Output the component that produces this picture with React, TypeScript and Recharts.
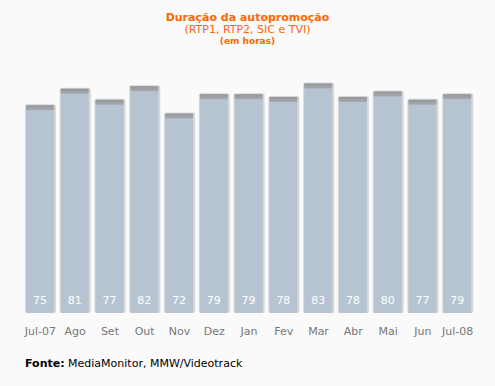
import React from "react";
import { BarChart, Bar, XAxis, YAxis, LabelList } from "recharts";

const months = ["Jul-07", "Ago", "Set", "Out", "Nov", "Dez", "Jan", "Fev", "Mar", "Abr", "Mai", "Jun", "Jul-08"];
const hours = [75, 81, 77, 82, 72, 79, 79, 78, 83, 78, 80, 77, 79];

const data = months.map((m, i) => ({ month: m, hours: hours[i] }));

const font = "Tahoma, 'DejaVu Sans', sans-serif";

// bar with a grey cap on top and a soft shadow, runs a few px under the baseline
const BarShape = (props: any) => {
  const { x, y, width, height } = props;
  const h = height + 3;
  return (
    <g>
      <rect x={x - 1} y={y - 1} width={width + 3} height={h + 1} rx={2} fill="#d4d7da" />
      <rect x={x} y={y} width={width} height={h} rx={1} fill="#b6c4d2" />
      <rect x={x} y={y} width={width} height={5} rx={1} fill="url(#cap)" />
    </g>
  );
};

const ValueLabel = (props: any) => {
  const { x, y, width, height, value } = props;
  return (
    <text
      x={x + width / 2}
      y={y + height - 9}
      textAnchor="middle"
      dominantBaseline="middle"
      fill="#ffffff"
      fontSize={11}
      fontFamily={font}
    >
      {value}
    </text>
  );
};

export default function App() {
  return (
    <div
      style={{
        position: "fixed",
        left: 0,
        top: 0,
        width: 495,
        height: 386,
        background: "#fafafa",
        fontFamily: font,
      }}
    >
      <div style={{ position: "absolute", top: 11, width: 495, textAlign: "center", color: "#ff6600" }}>
        <div style={{ fontSize: 11, fontWeight: "bold", lineHeight: "13px" }}>Duração da autopromoção</div>
        <div style={{ fontSize: 11, lineHeight: "12px" }}>(RTP1, RTP2, SIC e TVI)</div>
        <div style={{ fontSize: 9, fontWeight: "bold", lineHeight: "11px" }}>(em horas)</div>
      </div>
      <BarChart
        width={495}
        height={386}
        data={data}
        margin={{ top: 37, right: 20, bottom: 46, left: 23 }}
        barSize={28}
      >
        <defs>
          <linearGradient id="cap" x1="0" y1="0" x2="0" y2="1">
            <stop offset="0%" stopColor="#969696" />
            <stop offset="100%" stopColor="#a6abb0" />
          </linearGradient>
        </defs>
        <XAxis
          dataKey="month"
          axisLine={false}
          tickLine={false}
          tickSize={0}
          tickMargin={17}
          height={30}
          interval={0}
          tick={{ fill: "#777777", fontSize: 11, fontFamily: font }}
        />
        <YAxis hide domain={[0, 100]} />
        <Bar dataKey="hours" shape={<BarShape />} isAnimationActive={false}>
          <LabelList dataKey="hours" content={<ValueLabel />} />
        </Bar>
      </BarChart>
      <div style={{ position: "absolute", left: 25, top: 357, fontSize: 11, color: "#000" }}>
        <b>Fonte:</b> MediaMonitor, MMW/Videotrack
      </div>
    </div>
  );
}
